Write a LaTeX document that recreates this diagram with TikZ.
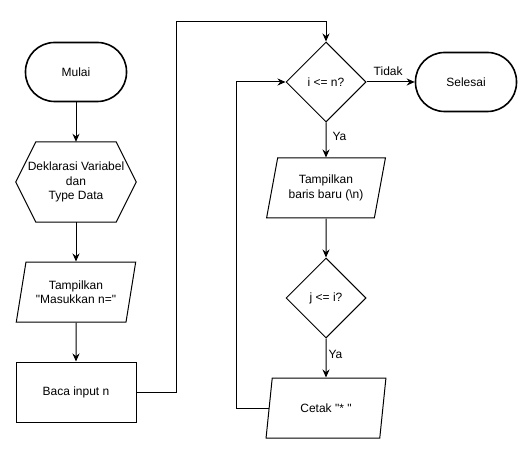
\documentclass[tikz,border=0pt]{standalone}
\usepackage{fontspec}
\setmainfont{Liberation Sans}[Ligatures=TeXOff]
\usetikzlibrary{shapes.geometric,arrows.meta,calc}
\begin{document}
\begin{tikzpicture}[x=1pt,y=-1pt,
  every node/.style={font=\fontsize{12}{14.5}\selectfont, align=center, inner sep=0pt},
  terminal/.style={draw, line width=1.6pt, rounded corners=29pt, minimum width=101pt, minimum height=59pt},
  process/.style={draw, line width=1pt, minimum width=120pt, minimum height=60pt},
  io/.style={draw, line width=1pt, trapezium, trapezium left angle=71.57, trapezium right angle=108.43,
    trapezium stretches=true, minimum width=120pt, minimum height=60pt},
  decision/.style={draw, line width=1pt, diamond, minimum width=80pt, minimum height=80pt},
  prep/.style={minimum width=120pt, minimum height=80pt},
  arr/.style={line width=1pt, -{Stealth[length=8pt,width=7pt]}},
  lab/.style={font=\fontsize{12}{14}\selectfont}
]
\useasboundingbox (0,0) rectangle (532,454);

% left column
\node[terminal] (start) at (76,72) {Mulai};
\node[prep] (decl) at (76,182) {Deklarasi Variabel\\dan\\Type Data};
\draw[line width=1pt] (decl.west) -- ([xshift=20pt]decl.north west) -- ([xshift=-20pt]decl.north east)
  -- (decl.east) -- ([xshift=-20pt]decl.south east) -- ([xshift=20pt]decl.south west) -- cycle;
\node[io] (prompt) at (76,292) {Tampilkan\\"Masukkan n="};
\node[process] (input) at (76,392) {Baca input n};

% right column
\node[decision] (outer) at (326,82) {i <= n?};
\node[terminal] (stop) at (466,82) {Selesai};
\node[io] (newline) at (326,188) {Tampilkan\\baris baru (\textbackslash n)};
\node[decision] (inner) at (326,298) {j <= i?};
\node[io] (star) at (326,408) {Cetak "* "};

% routing points
\coordinate (up) at (176,22);
\coordinate (loop) at (236,0);

% connectors
\draw[arr] (start) -- (decl);
\draw[arr] (decl) -- (prompt);
\draw[arr] (prompt) -- (input);
\draw[arr] (input.east) -| (up) -| (outer.north);
\draw[arr] (outer.east) -- node[lab, above=6pt, pos=0.45] {Tidak} (stop.west);
\draw[arr] (outer.south) -- node[lab, right=6pt, pos=0.4] {Ya} (newline.north);
\draw[arr] (newline.south) -- (inner.north);
\draw[arr] (inner.south) -- node[lab, right=2pt, pos=0.4] {Ya} (star.north);
\draw[arr] (star.left side) -- (star.left side -| loop) |- (outer.west);
\end{tikzpicture}
\end{document}
